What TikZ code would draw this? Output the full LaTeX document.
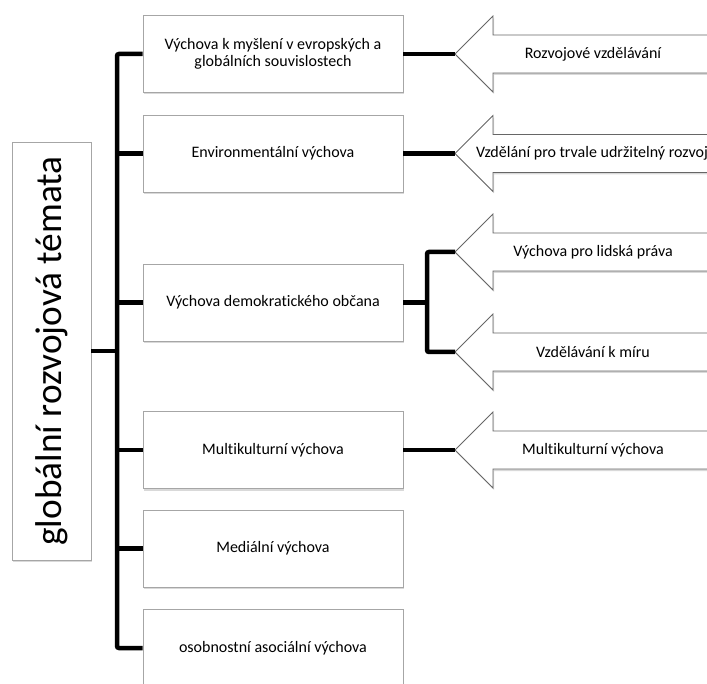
\documentclass[tikz,border=0pt]{standalone}
\usepackage{fontspec}
\setmainfont{Carlito}[Ligatures=NoCommon]
\usepackage{graphicx}
\usetikzlibrary{shadows}

\begin{document}
\begin{tikzpicture}[x=1pt, y=-1pt,
        b/.style={rectangle, draw=black!35, fill=white, line width=.8pt,
          minimum width=260pt, minimum height=77pt, inner sep=2pt,
          align=center, font=\fontsize{16}{17.5}\selectfont,
          drop shadow={shadow xshift=1pt, shadow yshift=-2pt, opacity=.3}},
        root/.style={b, minimum width=79pt, minimum height=418pt,
          font=\fontsize{37.3}{40}\selectfont},
        arr/.style={draw=black!60, fill=white, line width=.8pt,
          drop shadow={shadow xshift=1pt, shadow yshift=-2pt, opacity=.3}},
        lbl/.style={font=\fontsize{16}{17.5}\selectfont, inner sep=0pt},
        ln/.style={line width=4.5pt, rounded corners=2pt}]

      \useasboundingbox (0,0) rectangle (707,684);
      \clip (0,0) rectangle (707,684);

      % root
      \node[root] (g) at (51.5,351) {\rotatebox{90}{globální rozvojová témata}};
      \coordinate (bus) at (117,351);

      % boxes
      \node[b] (b1) at (273,54) {Výchova k myšlení v evropských a\\globálních souvislostech};
      \node[b] (b2) at (273,153.5) {Environmentální výchova};
      \node[b] (b3) at (273,302.5) {Výchova demokratického občana};
      \node[b] (b4) at (273,450) {Multikulturní výchova};
      \node[b] (b5) at (273,548.5) {Mediální výchova};
      \node[b] (b6) at (273,648) {osobnostní asociální výchova};

      % tree
      \draw[ln] (g.east) -- (bus);
      \draw[ln] (b1.west) -- (b1.west -| bus) -- (b6.west -| bus) -- (b6.west);
      \foreach \i in {2,3,4,5}
        \draw[ln] (b\i.west) -- (b\i.west -| bus);

      % arrows
      \coordinate (t1) at (455,54);
      \coordinate (t2) at (455,153.5);
      \coordinate (t3) at (455,252);
      \coordinate (t4) at (455,352);
      \coordinate (t5) at (455,450);
      \coordinate (br) at (427,302.5);
      \foreach \t in {t1,t2,t3,t4,t5}
        \draw[arr] (\t) -- ++(38,-38) -- ++(0,19) -- ++(260,0) -- ++(0,38)
          -- ++(-260,0) -- ++(0,19) -- cycle;

      \node[lbl] (a1) at (593,54) {Rozvojové vzdělávání};
      \node[lbl] (a2) at (592,153.5) {Vzdělání pro trvale udržitelný rozvoj};
      \node[lbl] (a3) at (593,252) {Výchova pro lidská práva};
      \node[lbl] (a4) at (593,352) {Vzdělávání k míru};
      \node[lbl] (a5) at (593,450) {Multikulturní výchova};

      \draw[ln] (b1.east) -- (t1);
      \draw[ln] (b2.east) -- (t2);
      \draw[ln] (b4.east) -- (t5);
      \draw[ln] (b3.east) -- (br);
      \draw[ln] (t3) -- (t3 -| br) -- (t4 -| br) -- (t4);
    \end{tikzpicture}
\end{document}
